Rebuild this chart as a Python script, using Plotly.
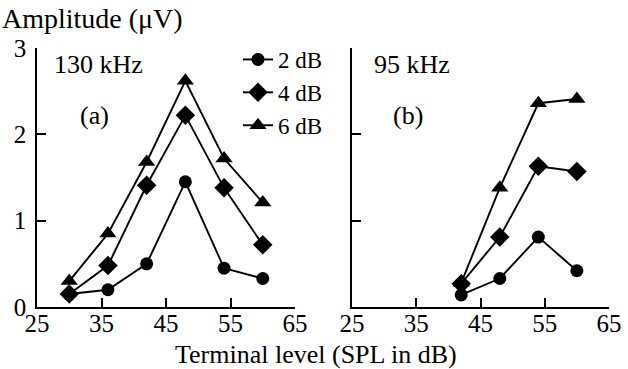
import plotly.graph_objects as go

# Terminal level (SPL in dB) for each panel
x_130 = [30, 36, 42, 48, 54, 60]
x_95 = [42, 48, 54, 60]

# Amplitude (µV), 130 kHz panel
amp_130_2db = [0.15, 0.20, 0.50, 1.45, 0.45, 0.33]
amp_130_4db = [0.15, 0.48, 1.41, 2.22, 1.38, 0.72]
amp_130_6db = [0.30, 0.85, 1.68, 2.62, 1.72, 1.21]

# Amplitude (µV), 95 kHz panel
amp_95_2db = [0.14, 0.33, 0.81, 0.42]
amp_95_4db = [0.27, 0.81, 1.63, 1.57]
amp_95_6db = [0.28, 1.38, 2.36, 2.41]

series_names = ["2 dB", "4 dB", "6 dB"]
symbols = ["circle", "diamond", "triangle-up"]
sizes = [13, 15, 15]

x_ticks = [25, 35, 45, 55, 65]
y_ticks = [0, 1, 2, 3]

FONT = "Liberation Serif, Times New Roman, serif"
FS = 25
fig = go.Figure()

panels = [
    (x_130, [amp_130_2db, amp_130_4db, amp_130_6db], "x", "y", True),
    (x_95, [amp_95_2db, amp_95_4db, amp_95_6db], "x2", "y2", False),
]
for xs, ys_list, xa, ya, show in panels:
    for name, ys, sym, sz in zip(series_names, ys_list, symbols, sizes):
        fig.add_trace(go.Scatter(
            x=xs, y=ys, mode="lines+markers", name=name,
            xaxis=xa, yaxis=ya, showlegend=show,
            line=dict(color="black", width=1.9),
            marker=dict(symbol=sym, size=sz, color="black"),
        ))

axis_common = dict(
    showline=True, linecolor="black", linewidth=1.6,
    ticks="inside", ticklen=9, tickwidth=1.6, tickcolor="black",
    showgrid=False, zeroline=False, automargin=False,
    tickfont=dict(family=FONT, size=FS, color="black"),
)

x_dom1 = [37 / 628, 295 / 628]
x_dom2 = [352 / 628, 609 / 628]
y_dom = [1 - 307 / 369, 1 - 48 / 369]

fig.update_layout(
    width=628, height=369,
    margin=dict(l=0, r=0, t=0, b=0, autoexpand=False),
    paper_bgcolor="white", plot_bgcolor="white",
    font=dict(family=FONT, size=FS, color="black"),
    xaxis=dict(domain=x_dom1, range=[25, 65], tickvals=x_ticks,
               anchor="y", ticklabelstandoff=-7, **axis_common),
    yaxis=dict(domain=y_dom, range=[0, 3], tickvals=y_ticks,
               anchor="x", ticklabelstandoff=4, **axis_common),
    xaxis2=dict(domain=x_dom2, range=[25, 65], tickvals=x_ticks,
                anchor="y2", ticklabelstandoff=-7, **axis_common),
    yaxis2=dict(domain=y_dom, range=[0, 3], tickvals=y_ticks,
                showticklabels=False, anchor="x2", **axis_common),
    legend=dict(
        x=238 / 628, y=1 - 38 / 369, xanchor="left", yanchor="top",
        bgcolor="rgba(0,0,0,0)", borderwidth=0,
        font=dict(family=FONT, size=23, color="black"),
        tracegroupgap=0,
    ),
    showlegend=True,
)

annotations = [
    dict(text="Amplitude (\u03bcV)", x=0, y=1 - 18 / 369, xanchor="left", size=28),
    dict(text="130 kHz", x=52 / 628, y=1 - 65 / 369, xanchor="left", size=26),
    dict(text="(a)", x=78 / 628, y=1 - 115 / 369, xanchor="left", size=26),
    dict(text="95 kHz", x=372 / 628, y=1 - 65 / 369, xanchor="left", size=26),
    dict(text="(b)", x=391 / 628, y=1 - 115 / 369, xanchor="left", size=26),
    dict(text="Terminal level (SPL in dB)", x=316 / 628, y=1 - 354 / 369,
         xanchor="center", size=26),
]
for a in annotations:
    size = a.pop("size")
    fig.add_annotation(xref="paper", yref="paper", yanchor="middle",
                       showarrow=False,
                       font=dict(family=FONT, size=size, color="black"), **a)

fig.write_html("out.html")
